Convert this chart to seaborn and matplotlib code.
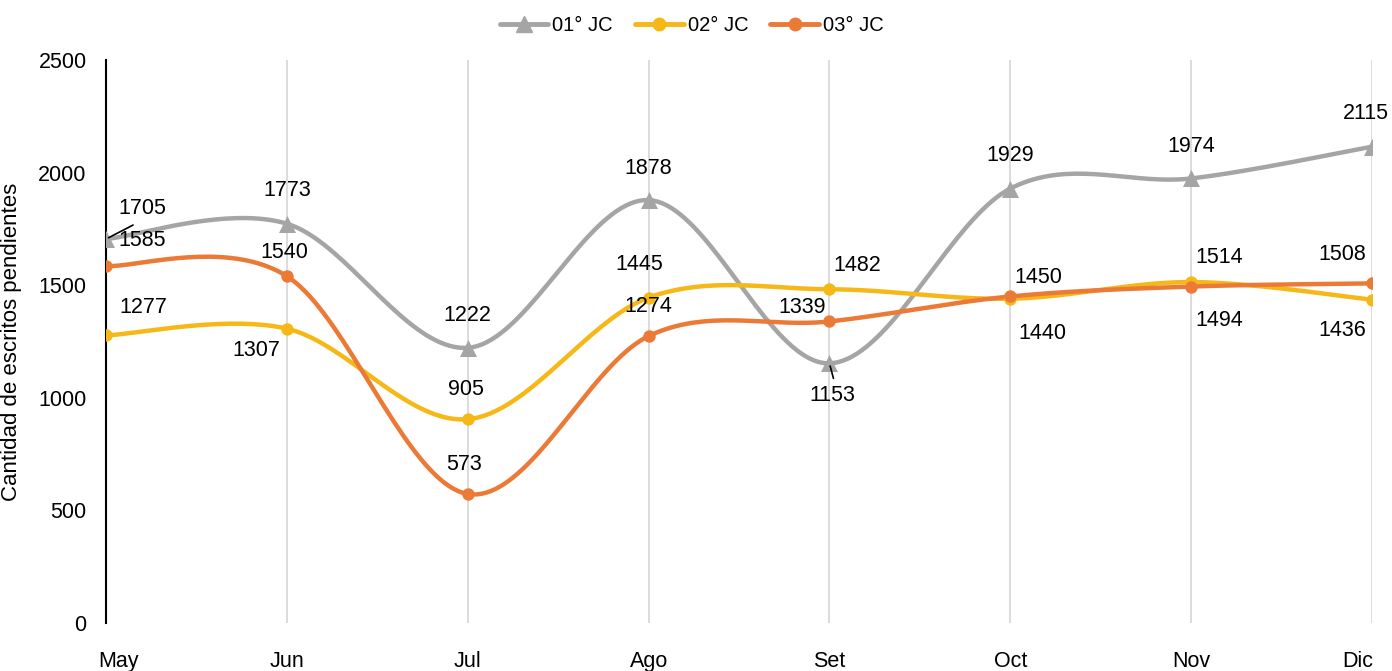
import numpy as np
import pandas as pd
import seaborn as sns
import matplotlib.pyplot as plt
import matplotlib.transforms as mtransforms
from matplotlib.lines import Line2D

# Data
months = ["May", "Jun", "Jul", "Ago", "Set", "Oct", "Nov", "Dic"]
jc01 = [1705, 1773, 1222, 1878, 1153, 1929, 1974, 2115]
jc02 = [1277, 1307, 905, 1445, 1482, 1440, 1514, 1436]
jc03 = [1585, 1540, 573, 1274, 1339, 1450, 1494, 1508]

series_names = ["01° JC", "02° JC", "03° JC"]
colors = ["#A5A5A5", "#F5B816", "#EB7A36"]
markers = ["^", "o", "o"]
marker_sizes = [150, 80, 80]

# label offsets in pixels (dx, dy) for each point
offsets = {
    "01° JC": [(36, 31), (0, 33), (0, 32), (0, 32), (3, -32), (0, 33), (0, 32), (-6, 33)],
    "02° JC": [(37, 28), (-31, -22), (-2, 30), (-9, 33), (28, 24), (32, -35), (28, 25), (-30, -31)],
    "03° JC": [(36, 26), (-3, 24), (-4, 29), (0, 30), (-27, 14), (28, 19), (28, -34), (-30, 29)],
}


def smooth(y, n=40):
    # Catmull-Rom style smoothing like Excel's smoothed lines
    x = np.arange(len(y), dtype=float)
    pts = np.column_stack([x, np.array(y, dtype=float)])
    ext = np.vstack([pts[0], pts, pts[-1]])
    out = []
    for i in range(1, len(ext) - 2):
        p0, p1, p2, p3 = ext[i - 1], ext[i], ext[i + 1], ext[i + 2]
        c1 = p1 + (p2 - p0) / 6
        c2 = p2 - (p3 - p1) / 6
        t = np.linspace(0, 1, n)[:, None]
        seg = ((1 - t) ** 3) * p1 + 3 * ((1 - t) ** 2) * t * c1 + 3 * (1 - t) * t ** 2 * c2 + t ** 3 * p2
        out.append(seg if i == 1 else seg[1:])
    return np.vstack(out)


sns.set_style("white")
plt.rcParams["font.family"] = ["Liberation Sans", "DejaVu Sans"]
plt.rcParams["text.color"] = "black"
plt.rcParams["xtick.color"] = "black"
plt.rcParams["ytick.color"] = "black"
plt.rcParams["axes.labelcolor"] = "black"

FS = 15.5

fig = plt.figure(figsize=(13.92, 6.71), dpi=100)
ax = fig.add_axes([0.0762, 0.0715, 0.9094, 0.8391])

data = [jc01, jc02, jc03]
for name, vals, c, m, s in zip(series_names, data, colors, markers, marker_sizes):
    curve = smooth(vals)
    dfc = pd.DataFrame({"x": curve[:, 0], "y": curve[:, 1]})
    sns.lineplot(data=dfc, x="x", y="y", ax=ax, color=c, linewidth=3.2, sort=False,
                 estimator=None, legend=False)
    dfp = pd.DataFrame({"x": np.arange(len(vals)), "y": vals})
    sns.scatterplot(data=dfp, x="x", y="y", ax=ax, color=c, marker=m, s=s,
                    edgecolor=c, linewidth=0, legend=False, zorder=3)
    for i, v in enumerate(vals):
        dx, dy = offsets[name][i]
        ax.annotate(str(v), (i, v), xytext=(dx, dy), textcoords="offset pixels",
                    ha="center", va="center", fontsize=FS, color="black", zorder=5)

# leader lines for displaced labels
ax.annotate("", (0, jc01[0]), xytext=(27, 14), textcoords="offset pixels",
            arrowprops=dict(arrowstyle="-", color="black", lw=1.2, shrinkA=0, shrinkB=2))
ax.annotate("", (4, jc01[4]), xytext=(4, -15), textcoords="offset pixels",
            arrowprops=dict(arrowstyle="-", color="black", lw=1.2, shrinkA=0, shrinkB=2))

ax.set_xlim(0, len(months) - 1)
ax.set_ylim(0, 2500)
ax.set_xticks(range(len(months)))
ax.set_xticklabels(months, fontsize=FS)
ax.set_yticks(range(0, 2501, 500))
ax.tick_params(axis="y", labelsize=FS, length=0, pad=14)
ax.tick_params(axis="x", length=0, pad=20)
ax.grid(axis="x", color="#D9D9D9", linewidth=1.3)
ax.set_axisbelow(True)
for sp in ["top", "right", "bottom"]:
    ax.spines[sp].set_visible(False)
ax.spines["left"].set_color("black")
ax.spines["left"].set_linewidth(1.5)
ax.set_xlabel("")
ax.set_ylabel("Cantidad de escritos pendientes", fontsize=16)
ax.yaxis.set_label_coords(-0.0664, 0.5)

# edge month labels are nudged inwards like in the original
xlabels = ax.get_xticklabels()
xlabels[0].set_transform(xlabels[0].get_transform() +
                         mtransforms.ScaledTranslation(12 / 100, 0, fig.dpi_scale_trans))
xlabels[-1].set_transform(xlabels[-1].get_transform() +
                          mtransforms.ScaledTranslation(-14 / 100, 0, fig.dpi_scale_trans))

handles = [Line2D([0], [0], color=c, lw=3.5, marker=m, markersize=9 if m == "o" else 11)
           for c, m in zip(colors, markers)]
fig.legend(handles, series_names, loc="center", bbox_to_anchor=(0.497, 0.962), ncol=3,
           frameon=False, fontsize=14.5, handlelength=2.4, handletextpad=0.2, columnspacing=1.1)

plt.savefig("out.png", dpi=100)
